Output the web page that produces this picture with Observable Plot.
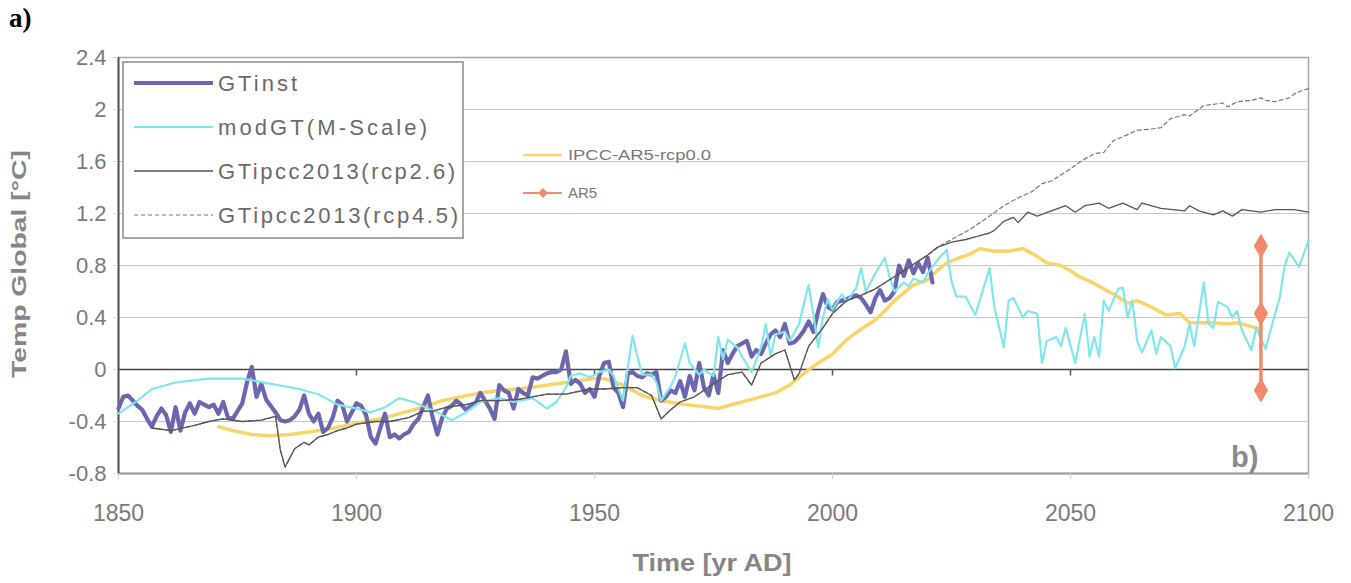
<!DOCTYPE html>
<html><head><meta charset="utf-8">
<script src="https://cdn.jsdelivr.net/npm/d3@7"></script>
<script src="https://cdn.jsdelivr.net/npm/@observablehq/plot@0.6"></script>
<style>
body{margin:0;background:#fff;}
#wrap{position:relative;width:1351px;height:583px;overflow:hidden;}
#a{position:absolute;left:9px;top:3px;font:bold 27px "Liberation Serif","DejaVu Serif",serif;color:#000;}
</style></head><body><div id="wrap"><div id="a">a)</div></div>
<script>
// ---------- data ----------
const xTicks = [1850, 1900, 1950, 2000, 2050, 2100];
const yTicks = [-0.8, -0.4, 0, 0.4, 0.8, 1.2, 1.6, 2, 2.4];

const gtinstYears = d3.range(1850, 2022);
const gtinstValues = [
 -0.30,-0.21,-0.20,-0.24,-0.28,-0.31,-0.38,-0.44,-0.36,-0.30,
 -0.35,-0.48,-0.29,-0.47,-0.33,-0.26,-0.34,-0.25,-0.27,-0.29,
 -0.27,-0.34,-0.25,-0.37,-0.38,-0.32,-0.26,-0.10,0.02,-0.21,
 -0.11,-0.23,-0.28,-0.33,-0.39,-0.40,-0.39,-0.36,-0.31,-0.20,
 -0.34,-0.40,-0.34,-0.48,-0.45,-0.37,-0.24,-0.27,-0.40,-0.33,
 -0.26,-0.28,-0.35,-0.52,-0.57,-0.45,-0.34,-0.52,-0.50,-0.53,
 -0.50,-0.48,-0.42,-0.38,-0.29,-0.20,-0.37,-0.50,-0.37,-0.30,
 -0.28,-0.24,-0.27,-0.31,-0.28,-0.26,-0.18,-0.24,-0.30,-0.38,
 -0.12,-0.16,-0.18,-0.30,-0.15,-0.18,-0.20,-0.06,-0.07,-0.05,
 -0.03,-0.02,-0.02,0.00,0.14,-0.11,-0.08,-0.11,-0.18,-0.15,
 -0.21,-0.05,0.05,0.06,-0.14,-0.18,-0.29,-0.03,-0.02,-0.05,
 -0.06,-0.03,-0.04,-0.02,-0.24,-0.21,-0.16,-0.18,-0.09,-0.21,
 -0.05,-0.16,0.05,-0.14,-0.20,-0.04,-0.18,0.15,0.05,0.12,
 0.18,0.20,0.22,0.10,0.15,0.12,0.20,0.27,0.30,0.25,
 0.35,0.20,0.21,0.25,0.30,0.37,0.29,0.45,0.58,0.48,
 0.46,0.52,0.53,0.54,0.56,0.57,0.55,0.50,0.44,0.55,
 0.61,0.53,0.55,0.60,0.80,0.72,0.84,0.74,0.82,0.75,
 0.86,0.67];

const modgtYears = [1850,1854,1857,1862,1869,1876,1882,1888,1892,1896,1900,1903,1906,1909,1912,1917,1920,1923,1926,1930,1933,1937,1940,1942,1944,1945,1947,1949,1951,1953,1954,1956,1957,1958,1959,1960,1962,1963,1964,1966,1967,1969,1970,1972,1973,1975,1976,1977,1978,1980,1981,1983,1985,1986,1987,1988,1990,1991,1993,1994,1995,1996,1997,1998,1999,2000,2002,2003,2005,2006,2007,2009,2011,2012,2013,2015,2016,2017,2019,2020,2022,2024,2025,2026,2028,2030,2033,2034,2036,2037,2038,2040,2041,2043,2044,2045,2047,2048,2049,2051,2053,2054,2055,2056,2057,2058,2060,2061,2062,2063,2064,2065,2067,2068,2069,2071,2072,2074,2075,2076,2078,2079,2080,2081,2083,2084,2085,2086,2088,2089,2091,2092,2094,2095,2096,2098,2100];
const modgtValues = [-0.34,-0.24,-0.15,-0.10,-0.07,-0.07,-0.11,-0.15,-0.19,-0.27,-0.30,-0.33,-0.29,-0.22,-0.25,-0.33,-0.39,-0.33,-0.25,-0.22,-0.25,-0.22,-0.30,-0.25,-0.14,-0.05,-0.03,-0.06,-0.02,0.00,-0.05,-0.24,0.02,0.26,0.10,-0.04,-0.04,-0.10,-0.24,-0.13,-0.05,0.20,0.05,-0.04,0.00,-0.05,0.25,0.08,0.23,0.17,0.10,-0.02,0.17,0.35,0.10,0.27,0.29,0.22,0.35,0.51,0.65,0.42,0.17,0.40,0.54,0.46,0.58,0.52,0.63,0.78,0.60,0.74,0.86,0.71,0.60,0.67,0.64,0.70,0.67,0.74,0.84,0.92,0.68,0.56,0.56,0.42,0.78,0.48,0.17,0.53,0.55,0.40,0.45,0.43,0.05,0.22,0.25,0.18,0.32,0.05,0.43,0.10,0.25,0.10,0.53,0.45,0.62,0.63,0.40,0.53,0.22,0.13,0.30,0.12,0.25,0.18,0.01,0.18,0.35,0.18,0.67,0.35,0.32,0.52,0.48,0.40,0.45,0.30,0.15,0.32,0.16,0.30,0.56,0.80,0.90,0.79,0.99];

const rcp26Years = [1857,1861,1866,1869,1872,1876,1880,1883,1884,1885,1886,1887,1889,1890,1892,1894,1896,1898,1900,1904,1907,1911,1914,1916,1919,1923,1926,1930,1934,1937,1940,1944,1949,1952,1956,1959,1962,1964,1966,1968,1971,1975,1978,1981,1983,1985,1988,1990,1992,1993,1995,1998,2000,2003,2006,2009,2012,2015,2017,2020,2022,2025,2028,2030,2033,2034,2036,2038,2039,2041,2043,2046,2049,2051,2053,2056,2058,2061,2064,2065,2069,2074,2075,2077,2080,2082,2084,2086,2090,2093,2097,2100];
const rcp26Values = [-0.45,-0.47,-0.43,-0.40,-0.38,-0.40,-0.39,-0.36,-0.62,-0.75,-0.68,-0.61,-0.56,-0.58,-0.52,-0.50,-0.47,-0.45,-0.42,-0.40,-0.40,-0.37,-0.32,-0.32,-0.29,-0.27,-0.24,-0.24,-0.23,-0.21,-0.19,-0.19,-0.15,-0.15,-0.14,-0.14,-0.20,-0.38,-0.31,-0.25,-0.21,-0.11,-0.04,-0.02,-0.12,0.05,0.12,0.15,-0.08,-0.03,0.18,0.32,0.43,0.53,0.57,0.62,0.69,0.76,0.81,0.88,0.94,0.98,1.00,1.02,1.05,1.07,1.14,1.17,1.13,1.21,1.18,1.22,1.26,1.21,1.26,1.28,1.24,1.28,1.23,1.28,1.24,1.22,1.26,1.22,1.19,1.22,1.18,1.23,1.21,1.23,1.23,1.21];

// rcp4.5 follows rcp2.6 up to 2020, then these values
const rcp45Years = [2020,2023,2026,2029,2033,2036,2039,2042,2044,2046,2049,2051,2053,2055,2057,2059,2061,2064,2067,2069,2071,2074,2075,2078,2080,2082,2083,2085,2088,2090,2091,2093,2094,2096,2097,2099,2100];
const rcp45Values = [0.88,0.96,1.02,1.08,1.18,1.26,1.32,1.37,1.43,1.45,1.52,1.57,1.62,1.66,1.67,1.76,1.79,1.84,1.85,1.86,1.93,1.96,1.95,2.03,2.04,2.05,2.02,2.06,2.07,2.09,2.07,2.06,2.07,2.09,2.12,2.15,2.16];

const ipccYears = [1871,1874,1878,1882,1886,1890,1894,1898,1902,1906,1910,1914,1918,1922,1926,1930,1934,1938,1942,1946,1950,1952,1956,1960,1964,1969,1974,1976,1980,1984,1988,1991,1994,1997,2000,2003,2006,2009,2011,2013,2015,2017,2020,2022,2024,2026,2029,2031,2034,2037,2040,2043,2045,2048,2050,2052,2054,2057,2060,2062,2064,2067,2070,2073,2075,2078,2080,2083,2085,2087,2089,2090];
const ipccValues = [-0.44,-0.47,-0.50,-0.51,-0.50,-0.48,-0.46,-0.43,-0.40,-0.37,-0.33,-0.29,-0.24,-0.21,-0.18,-0.16,-0.15,-0.13,-0.11,-0.09,-0.07,-0.07,-0.12,-0.20,-0.24,-0.27,-0.29,-0.30,-0.26,-0.22,-0.18,-0.12,-0.03,0.05,0.12,0.23,0.31,0.38,0.45,0.53,0.59,0.65,0.69,0.76,0.82,0.85,0.89,0.93,0.91,0.91,0.93,0.87,0.82,0.80,0.76,0.71,0.68,0.62,0.56,0.51,0.53,0.48,0.42,0.43,0.36,0.36,0.36,0.35,0.36,0.34,0.32,0.31];

const ar5Year = 2090;
const ar5Values = [0.95, 0.43, -0.16];

// ---------- build tables ----------
const pts = (ys, vs) => ys.map((y, i) => ({year: y, value: vs[i]}));
const gtinst = pts(gtinstYears, gtinstValues);
const modgt = pts(modgtYears, modgtValues);
const rcp26 = pts(rcp26Years, rcp26Values);
const rcp45 = rcp26.filter(d => d.year < 2020).concat(pts(rcp45Years, rcp45Values));
const ipcc = pts(ipccYears, ipccValues);
const ar5 = ar5Values.map(v => ({year: ar5Year, value: v}));

const fmtY = d => (Math.round(d * 10) / 10).toString();

const chart = Plot.plot({
  width: 1351, height: 583,
  marginLeft: 118, marginRight: 43, marginTop: 57, marginBottom: 110,
  style: {fontFamily: "'Liberation Sans', Arial, sans-serif", background: "transparent", overflow: "visible"},
  x: {domain: [1850, 2100]},
  y: {domain: [-0.8, 2.4]},
  marks: [
    Plot.ruleY(yTicks, {stroke: "#c8c8c8", strokeWidth: 1.2}),
    Plot.frame({stroke: "#a8a8a8", strokeWidth: 1.5}),
    Plot.ruleY([-0.8], {stroke: "#9a9a9a", strokeWidth: 2}),
    Plot.ruleX([1850], {stroke: "#555", strokeWidth: 2}),
    Plot.ruleY([0], {stroke: "#444", strokeWidth: 1.6}),
    Plot.ruleX(xTicks.slice(1, -1), {y1: 0, y2: -0.05, stroke: "#555", strokeWidth: 1.5}),
    Plot.axisY({ticks: yTicks, tickFormat: fmtY, tickSize: 6, tickPadding: 6, fontSize: 22, fill: "#7a7a7a", stroke: "#bbb", strokeDasharray: "1.5,1.5", label: null}),
    Plot.axisX({ticks: xTicks, tickFormat: d => String(d), tickSize: 6, tickPadding: 25, fontSize: 23, fill: "#7a7a7a", stroke: "#ccc", label: null}),
    Plot.line(ipcc, {x: "year", y: "value", stroke: "#f6d46a", strokeWidth: 3.5}),
    Plot.line(gtinst, {x: "year", y: "value", stroke: "#6b66ad", strokeWidth: 4.2}),
    Plot.line(modgt, {x: "year", y: "value", stroke: "#7fe6ec", strokeWidth: 2.2}),
    Plot.line(rcp45, {x: "year", y: "value", stroke: "#777", strokeWidth: 1.2, strokeDasharray: "4,3"}),
    Plot.line(rcp26, {x: "year", y: "value", stroke: "#555", strokeWidth: 1.3}),
    Plot.ruleX([ar5Year], {y1: d3.min(ar5Values), y2: d3.max(ar5Values), stroke: "#f2896b", strokeWidth: 3.5}),
    Plot.dot(ar5, {x: "year", y: "value", symbol: "diamond", fill: "#f2896b", r: 7.5})
  ]
});

// condense the tick labels a bit, like the reference
d3.select(chart).selectAll("g[aria-label='x-axis tick label'] text, g[aria-label='y-axis tick label'] text")
  .attr("font-stretch", "condensed");

const svg = d3.select(chart);
// main legend
const lg = svg.append("g").attr("text-anchor", "start");
lg.append("rect").attr("x", 123).attr("y", 62).attr("width", 340).attr("height", 176)
  .attr("fill", "#fff").attr("stroke", "#8a8a8a").attr("stroke-width", 1.5);
const entries = [
  {label: "GTinst", stroke: "#6b66ad", w: 4.2, dash: null, len: 79},
  {label: "modGT(M-Scale)", stroke: "#7fe6ec", w: 2.2, dash: null, len: 209},
  {label: "GTipcc2013(rcp2.6)", stroke: "#555", w: 1.3, dash: null, len: 237},
  {label: "GTipcc2013(rcp4.5)", stroke: "#777", w: 1.2, dash: "4,3", len: 240}
];
entries.forEach((e, i) => {
  const y = 83 + i * 44;
  lg.append("line").attr("x1", 134).attr("x2", 213).attr("y1", y).attr("y2", y)
    .attr("stroke", e.stroke).attr("stroke-width", e.w).attr("stroke-dasharray", e.dash);
  lg.append("text").attr("x", 218).attr("y", y).attr("dy", "0.36em").attr("text-anchor", "start")
    .attr("font-size", 22).attr("fill", "#6a6a6a").attr("textLength", e.len).attr("lengthAdjust", "spacing")
    .text(e.label);
});
// second legend
const lg2 = svg.append("g").attr("text-anchor", "start");
lg2.append("line").attr("x1", 523).attr("x2", 562).attr("y1", 155).attr("y2", 155)
  .attr("stroke", "#f6d46a").attr("stroke-width", 2.5);
lg2.append("text").attr("x", 568).attr("y", 155).attr("dy", "0.36em").attr("font-size", 15).attr("text-anchor", "start")
  .attr("fill", "#777").attr("textLength", 143).attr("lengthAdjust", "spacingAndGlyphs").text("IPCC-AR5-rcp0.0");
lg2.append("line").attr("x1", 523).attr("x2", 562).attr("y1", 193).attr("y2", 193)
  .attr("stroke", "#f2896b").attr("stroke-width", 2);
lg2.append("path").attr("d", "M543,188L548,193L543,198L538,193Z").attr("fill", "#f2896b");
lg2.append("text").attr("x", 568).attr("y", 193).attr("dy", "0.36em").attr("font-size", 15).attr("text-anchor", "start")
  .attr("fill", "#777").text("AR5");
// b) label
svg.append("text").attr("x", 1231).attr("y", 467).attr("font-size", 29).attr("font-weight", "bold")
  .attr("text-anchor", "start").attr("fill", "#8a8a8a").text("b)");
// axis titles
svg.append("text").attr("transform", "translate(26,264) rotate(-90)").attr("text-anchor", "middle")
  .attr("font-size", 21).attr("font-weight", "bold").attr("fill", "#858585")
  .attr("textLength", 228).attr("lengthAdjust", "spacingAndGlyphs").text("Temp Global [°C]");
svg.append("text").attr("x", 712).attr("y", 571).attr("text-anchor", "middle")
  .attr("font-size", 24).attr("font-weight", "bold").attr("fill", "#858585")
  .attr("textLength", 159).attr("lengthAdjust", "spacingAndGlyphs").text("Time [yr AD]");

document.getElementById("wrap").prepend(chart);
</script></body></html>
